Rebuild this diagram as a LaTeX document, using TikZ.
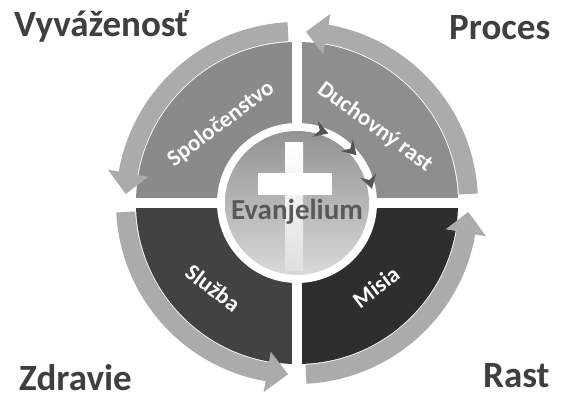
\documentclass[tikz,border=0pt]{standalone}
\usepackage{fontspec}
\setmainfont{Carlito}
\definecolor{qtop}{HTML}{8A8A8A}
\definecolor{qtopr}{HTML}{8E8E8E}
\definecolor{qbotl}{HTML}{424242}
\definecolor{qbotr}{HTML}{2E2E2E}
\definecolor{ringc}{HTML}{ABABAB}
\definecolor{cornertxt}{HTML}{3F3F3F}
\definecolor{evtxt}{HTML}{595959}
\definecolor{chev}{HTML}{555555}
\tikzset{
  corner/.style={font=\bfseries\fontsize{37}{37}\selectfont, text=cornertxt, inner sep=0pt, anchor=base west},
  quadtxt/.style={font=\bfseries\fontsize{23}{23}\selectfont, text=white, inner sep=0pt},
  chevron/.style={fill=chev}
}
\begin{document}
\begin{tikzpicture}[x=1pt,y=1pt]
\useasboundingbox (0,0) rectangle (576,399);
\fill[white] (0,0) rectangle (576,399);
\begin{scope}[shift={(297,196)}]
  \fill[qtopr] (0,0) -- (0:161) arc[start angle=0,end angle=90,radius=161pt] -- cycle;
  \fill[qtop] (0,0) -- (90:161) arc[start angle=90,end angle=180,radius=161pt] -- cycle;
  \fill[qbotl] (0,0) -- (180:161) arc[start angle=180,end angle=270,radius=161pt] -- cycle;
  \fill[qbotr] (0,0) -- (270:161) arc[start angle=270,end angle=360,radius=161pt] -- cycle;
  \fill[ringc] (3:181) arc[start angle=3,end angle=80,radius=181pt] -- (80:192) -- (87:171.5) -- (80:151) -- (80:162) arc[start angle=80,end angle=3,radius=162pt] -- cycle;
  \fill[ringc] (93:181) arc[start angle=93,end angle=170,radius=181pt] -- (170:192) -- (177:171.5) -- (170:151) -- (170:162) arc[start angle=170,end angle=93,radius=162pt] -- cycle;
  \fill[ringc] (183:181) arc[start angle=183,end angle=260,radius=181pt] -- (260:192) -- (267:171.5) -- (260:151) -- (260:162) arc[start angle=260,end angle=183,radius=162pt] -- cycle;
  \fill[ringc] (273:181) arc[start angle=273,end angle=350,radius=181pt] -- (350:192) -- (357:171.5) -- (350:151) -- (350:162) arc[start angle=350,end angle=273,radius=162pt] -- cycle;
  \fill[white] (-5,-162) rectangle (5,162);
  \fill[white] (-162,-5) rectangle (162,5);
  \fill[white] (0,0) circle[radius=80pt];
  \shade[top color=gray!85, bottom color=gray!30] (0,0) circle[radius=72pt];
  \shade[top color=white, bottom color=white!75!gray] (-12,-68) rectangle (6,60);
  \fill[white] (-39,8) rectangle (35,30);
  \foreach \a in {71,44,16}{
    \fill[chevron, shift={(\a:76)}, rotate=\a-90, scale=1.4] (-5,6) -- (5,0) -- (-5,-6) -- (-1.5,0) -- cycle;
  }
\end{scope}
\node[font=\bfseries\fontsize{29}{29}\selectfont, text=evtxt, inner sep=0pt] (ev) at (297,187) {Evanjelium};
\node[quadtxt, rotate=37] (q1) at (221,275) {Spoločenstvo};
\node[quadtxt, rotate=-36] (q2) at (375,272) {Duchovný rast};
\node[quadtxt, rotate=-37] (q3) at (213,111) {Služba};
\node[quadtxt, rotate=37] (q4) at (376,112) {Misia};
\node[corner] (c1) at (14,362) {Vyváženosť};
\node[corner] (c2) at (449,359) {Proces};
\node[corner] (c3) at (19,8) {Zdravie};
\node[corner] (c4) at (483,11) {Rast};
\end{tikzpicture}
\end{document}
